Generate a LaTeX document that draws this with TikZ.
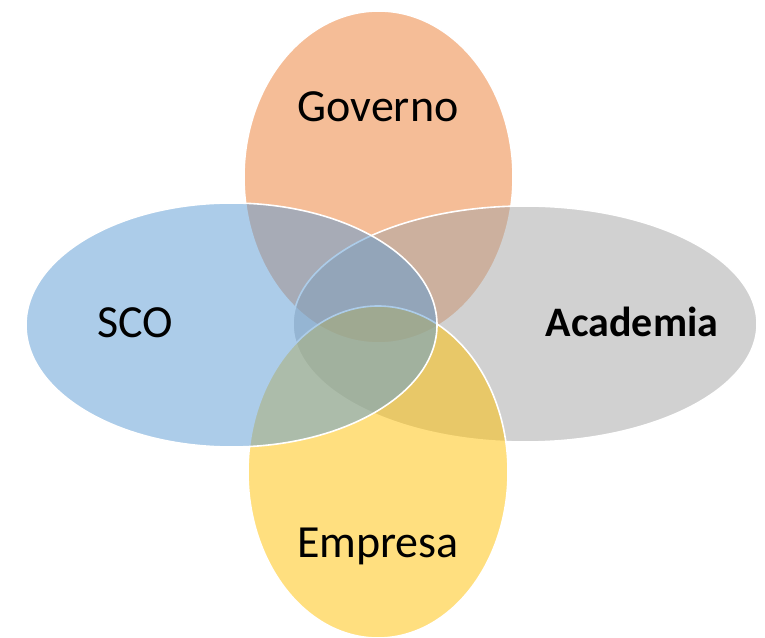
\documentclass[tikz,border=0pt]{standalone}
\usepackage{fontspec}
\setmainfont{Carlito}
\definecolor{cgov}{RGB}{237,125,49}
\definecolor{cacad}{RGB}{165,165,165}
\definecolor{cemp}{RGB}{255,192,0}
\definecolor{csco}{RGB}{91,155,213}
\begin{document}
\begin{tikzpicture}[x=1pt,y=1pt,
  venn/.style={draw=white, line width=1.6pt, fill opacity=0.5, draw opacity=1},
  lbl/.style={font=\fontsize{46}{50}\selectfont, anchor=base, inner sep=0pt, text=black}]
\useasboundingbox (0,0) rectangle (765,637);
\fill[white] (0,0) rectangle (765,637);
\path[venn, fill=cgov] (378.5,460) ellipse [x radius=134.5, y radius=166];
\path[venn, fill=cacad] (525,313) ellipse [x radius=232, y radius=118];
\path[venn, fill=cemp] (378,165) ellipse [x radius=130, y radius=166];
\path[venn, fill=csco] (231.5,312) ellipse [x radius=205.5, y radius=122];
\node[lbl] (gov) at (378,515) {Governo};
\node[lbl] (sco) at (135,299) {SCO};
\node[lbl, font=\fontsize{42}{46}\selectfont\bfseries] (acad) at (632,300) {Academia};
\node[lbl] (emp) at (378,80) {Empresa};
\end{tikzpicture}
\end{document}
